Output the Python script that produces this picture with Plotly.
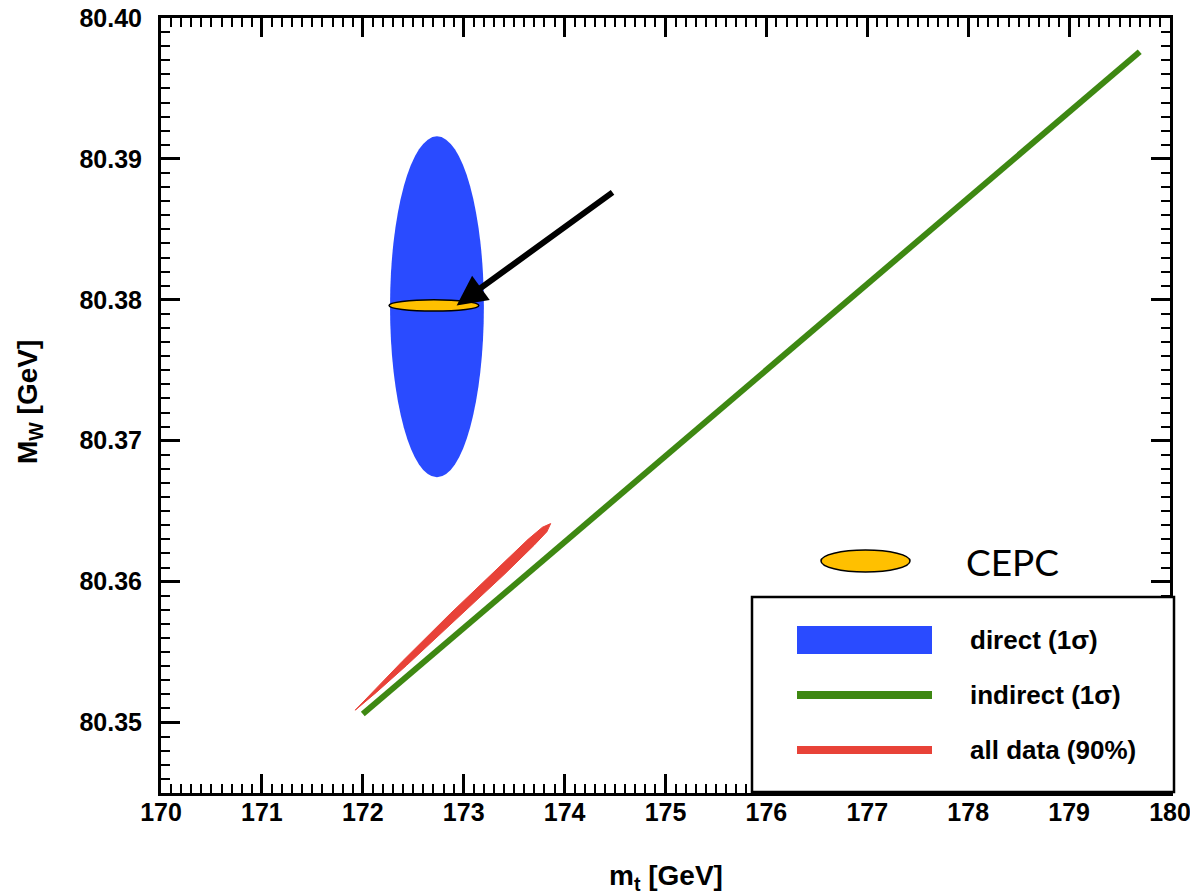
import plotly.graph_objects as go

# ---- data ----
# direct (1 sigma) ellipse: centre and half-widths
direct_mt = 172.735
direct_mw = 80.3795
direct_dmt = 0.465
direct_dmw = 0.0121

# CEPC projection ellipse
cepc_mt = 172.705
cepc_mw = 80.3796
cepc_dmt = 0.445
cepc_dmw = 0.0004

# indirect (1 sigma) band (thin line)
indirect_mt = [172.00, 179.70]
indirect_mw = [80.3506, 80.3976]

# all data (90%) contour points
alldata_mt = [171.925, 172.112, 172.392, 172.866, 173.346, 173.638, 173.780, 173.862,
              173.824, 173.696, 173.409, 172.924, 172.433, 172.134, 171.925]
alldata_mw = [80.35088, 80.35230, 80.35435, 80.35772, 80.36104, 80.36300, 80.36386, 80.36412,
              80.36354, 80.36257, 80.36056, 80.35729, 80.35405, 80.35214, 80.35088]

# arrow (tail -> head)
arrow_tail = (174.49, 80.3877)
arrow_head = (172.93, 80.3796)

legend_labels = ["direct (1σ)", "indirect (1σ)", "all data (90%)"]
cepc_label = "CEPC"

x_ticks = list(range(170, 181))
y_ticks = [80.35, 80.36, 80.37, 80.38, 80.39, 80.40]

BLUE = "rgb(42,75,255)"
GREEN = "rgb(62,136,18)"
RED = "rgb(232,66,56)"
GOLD = "rgb(255,192,0)"

# ---- figure geometry (pixels) ----
OFF = 8  # page body margin
W, H = 1198 - OFF, 895 - OFF
L, R, T, B = 161 - OFF, 28, 18 - OFF, 102
PW = W - L - R
PH = H - T - B


def px(X):
    return (X - OFF - L) / PW


def py(Y):
    return (OFF + H - B - Y) / PH


fig = go.Figure()

fig.add_trace(go.Scatter(
    x=alldata_mt, y=alldata_mw, mode="lines", fill="toself",
    fillcolor=RED, line=dict(color=RED, width=1),
    showlegend=False, hoverinfo="skip"))

fig.add_trace(go.Scatter(
    x=indirect_mt, y=indirect_mw, mode="lines",
    line=dict(color=GREEN, width=6), showlegend=False, hoverinfo="skip"))

shapes = []
# direct ellipse
shapes.append(dict(type="circle", xref="x", yref="y",
                   x0=direct_mt - direct_dmt, x1=direct_mt + direct_dmt,
                   y0=direct_mw - direct_dmw, y1=direct_mw + direct_dmw,
                   fillcolor=BLUE, line=dict(width=0), layer="below"))
# CEPC ellipse
shapes.append(dict(type="circle", xref="x", yref="y",
                   x0=cepc_mt - cepc_dmt, x1=cepc_mt + cepc_dmt,
                   y0=cepc_mw - cepc_dmw, y1=cepc_mw + cepc_dmw,
                   fillcolor=GOLD, line=dict(color="black", width=1.5)))

# legend box
shapes.append(dict(type="rect", xref="paper", yref="paper",
                   x0=px(752), x1=px(1174), y0=py(792), y1=py(597),
                   fillcolor="white", line=dict(color="black", width=2.5)))
# legend swatches
shapes.append(dict(type="rect", xref="paper", yref="paper",
                   x0=px(797), x1=px(932), y0=py(654), y1=py(626),
                   fillcolor=BLUE, line=dict(width=0)))
shapes.append(dict(type="rect", xref="paper", yref="paper",
                   x0=px(797), x1=px(932), y0=py(699), y1=py(691),
                   fillcolor=GREEN, line=dict(width=0)))
shapes.append(dict(type="rect", xref="paper", yref="paper",
                   x0=px(797), x1=px(932), y0=py(754), y1=py(746),
                   fillcolor=RED, line=dict(width=0)))
# CEPC legend ellipse
shapes.append(dict(type="circle", xref="paper", yref="paper",
                   x0=px(821), x1=px(910), y0=py(572), y1=py(550),
                   fillcolor=GOLD, line=dict(color="black", width=1.5)))

annotations = []
annotations.append(dict(
    x=arrow_head[0], y=arrow_head[1], ax=arrow_tail[0], ay=arrow_tail[1],
    xref="x", yref="y", axref="x", ayref="y", text="", showarrow=True,
    arrowhead=2, arrowsize=1.0, arrowwidth=6, arrowcolor="black"))

for lab, Y in zip(legend_labels, [640, 695, 750]):
    annotations.append(dict(x=px(968), y=py(Y), xref="paper", yref="paper",
                            text="<b>" + lab + "</b>", showarrow=False,
                            xanchor="left", yanchor="middle",
                            font=dict(family="Liberation Sans, Arial", size=26, color="black")))

annotations.append(dict(x=px(964), y=py(561), xref="paper", yref="paper",
                        text=cepc_label, showarrow=False, xanchor="left", yanchor="middle",
                        font=dict(family="Lato", size=37, color="black")))

# axis titles
annotations.append(dict(x=px(666), y=py(877), xref="paper", yref="paper",
                        text="<b>m<sub>t</sub> [GeV]</b>", showarrow=False,
                        xanchor="center", yanchor="middle",
                        font=dict(family="Liberation Sans, Arial", size=28, color="black")))
annotations.append(dict(x=px(29), y=py(402), xref="paper", yref="paper",
                        text="<b>M<sub>W</sub> [GeV]</b>", showarrow=False, textangle=-90,
                        xanchor="center", yanchor="middle",
                        font=dict(family="Liberation Sans, Arial", size=28, color="black")))

axis_common = dict(showline=True, linewidth=3, linecolor="black", mirror="allticks",
                   ticks="inside", ticklen=19, tickwidth=2.5, tickcolor="black",
                   showgrid=False, zeroline=False, automargin=False,
                   ticklabeloverflow="allow",
                   tickfont=dict(family="Liberation Sans, Arial", size=25, color="black"))

fig.update_layout(
    width=W, height=H,
    margin=dict(l=L, r=R, t=T, b=B),
    paper_bgcolor="white", plot_bgcolor="white",
    showlegend=False,
    shapes=shapes, annotations=annotations,
    xaxis=dict(range=[170, 180], tickvals=x_ticks,
               ticktext=["<b>%d</b>" % v for v in x_ticks],
               minor=dict(dtick=0.1, tick0=170, ticks="inside", ticklen=9,
                          tickwidth=2, tickcolor="black"),
               ticklabelstandoff=-5,
               **axis_common),
    yaxis=dict(range=[80.345, 80.40], tickvals=y_ticks,
               ticktext=["<b>%.2f</b>" % v for v in y_ticks],
               minor=dict(dtick=0.001, tick0=80.35, ticks="inside", ticklen=9,
                          tickwidth=2, tickcolor="black"),
               ticklabelstandoff=11,
               **axis_common),
)

fig.write_html("out.html")
